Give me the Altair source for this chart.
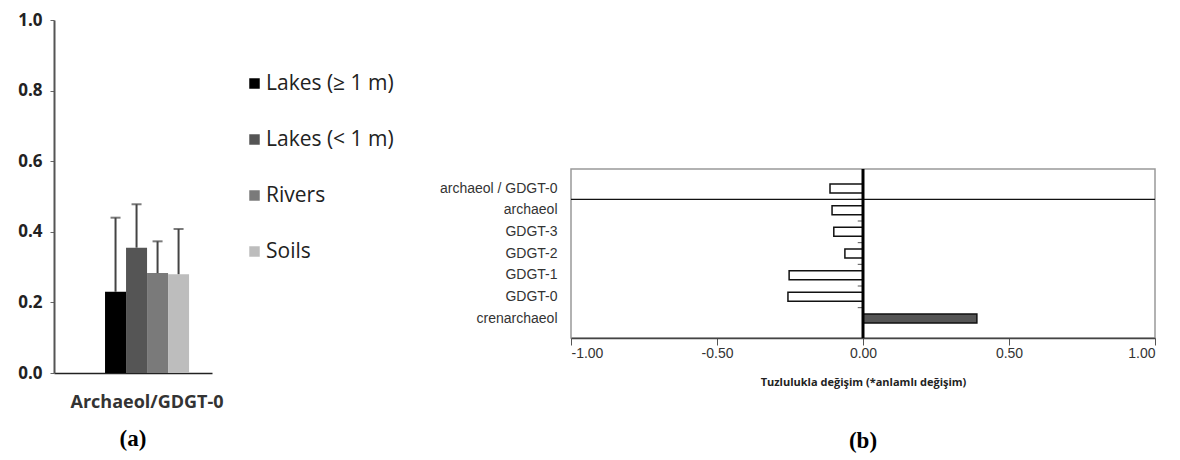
import altair as alt
import pandas as pd

# ---------------- data: panel (a) ----------------
ratio_label = ["Archaeol/GDGT-0"]
series = ["Lakes (\u2265 1 m)", "Lakes (< 1 m)", "Rivers", "Soils"]
means = [0.23, 0.355, 0.283, 0.28]
errors = [0.21, 0.123, 0.09, 0.128]
series_colors = ["#000000", "#555555", "#7a7a7a", "#bdbdbd"]
y_ticks_a = [0.0, 0.2, 0.4, 0.6, 0.8, 1.0]

# ---------------- data: panel (b) ----------------
compounds = ["archaeol / GDGT-0", "archaeol", "GDGT-3", "GDGT-2",
             "GDGT-1", "GDGT-0", "crenarchaeol"]
change = [-0.113, -0.106, -0.10, -0.062, -0.253, -0.257, 0.39]
x_ticks_b = [-1.0, -0.5, 0.0, 0.5, 1.0]

df_a = pd.DataFrame({
    "group": ratio_label * len(series),
    "series": series,
    "mean": means,
    "err": errors,
})
df_b = pd.DataFrame({"compound": compounds, "change": change})

# ---------------- panel (a) ----------------
x_a = alt.X("group:N", title=None,
            scale=alt.Scale(paddingInner=0, paddingOuter=0.44, align=0.69),
            axis=alt.Axis(labelAngle=0, ticks=False, labelFontSize=18,
                          labelFont="Open Sans", labelFontWeight="bold",
                          labelColor="#333333", labelPadding=20,
                          domainColor="#222222", domainWidth=1.5))
xoff_a = alt.XOffset("series:N", sort=series,
                     scale=alt.Scale(paddingInner=0, paddingOuter=0))
y_a = alt.Y("mean:Q", title=None,
            scale=alt.Scale(domain=[0, 1], nice=False),
            axis=alt.Axis(values=y_ticks_a, format=".1f", grid=False,
                          tickSize=4, tickColor="#666666", labelFontSize=17,
                          labelFont="Open Sans", labelFontWeight="bold",
                          labelColor="#222222", labelPadding=8,
                          domainColor="#555555", domainWidth=2))

bars_a = alt.Chart(df_a).mark_bar().encode(
    x=x_a, xOffset=xoff_a, y=y_a,
    color=alt.Color("series:N", sort=series,
                    scale=alt.Scale(domain=series, range=series_colors),
                    legend=alt.Legend(title=None, orient="none",
                                      legendX=190, legendY=53,
                                      symbolType="square", symbolSize=110,
                                      symbolStrokeWidth=0,
                                      labelFont="Open Sans", labelFontSize=21,
                                      labelColor="#222222", rowPadding=34,
                                      labelOffset=1)),
)
whisk_a = alt.Chart(df_a).transform_calculate(
    upper="datum.mean + datum.err"
).mark_rule(color="#444444", strokeWidth=2).encode(
    x=x_a, xOffset=xoff_a, y="mean:Q", y2="upper:Q"
)
cap_a = alt.Chart(df_a).transform_calculate(
    upper="datum.mean + datum.err"
).mark_tick(color="#444444", thickness=2, size=10).encode(
    x=x_a, xOffset=xoff_a, y="upper:Q"
)
panel_a = alt.layer(bars_a, whisk_a, cap_a).properties(
    width=158, height=353,
    view=alt.ViewBackground(stroke=None),
    title=alt.TitleParams("(a)", orient="bottom", font="Liberation Serif",
                          fontSize=23, fontWeight="bold", color="#000000",
                          offset=17),
)

# ---------------- panel (b) ----------------
y_b = alt.Y("compound:N", sort=compounds, title=None,
            scale=alt.Scale(paddingInner=0, paddingOuter=0.4),
            axis=alt.Axis(ticks=False, domain=False, labelFontSize=14,
                          labelFont="Liberation Sans", labelColor="#333333",
                          labelPadding=14))
x_b = alt.X("change:Q", title="Tuzlulukla de\u011fi\u015fim (*anlaml\u0131 de\u011fi\u015fim)",
            scale=alt.Scale(domain=[-1, 1], nice=False),
            axis=alt.Axis(values=x_ticks_b,
                          labelExpr="replace(format(datum.value, '.2f'), '\u2212', '-')",
                          grid=False,
                          tickSize=7, tickColor="#555555", domainColor="#444444",
                          domainWidth=1.5, labelFontSize=14,
                          labelFont="Liberation Sans", labelColor="#333333",
                          labelPadding=1, titleFont="Open Sans",
                          titleFontSize=11, titleFontWeight="bold",
                          titleColor="#222222", titlePadding=16))

bars_b = alt.Chart(df_b).mark_bar(size=9, stroke="#111111", strokeWidth=1.5).encode(
    x=x_b, y=y_b,
    fill=alt.condition("datum.change > 0", alt.value("#555555"), alt.value("#ffffff")),
)
zero_b = alt.Chart(df_b).transform_filter(
    alt.datum.compound == compounds[0]
).mark_rule(color="#000000", strokeWidth=3).encode(x=alt.datum(0))
divider_b = alt.Chart(df_b).transform_filter(
    alt.datum.compound == compounds[1]
).mark_rule(color="#111111", strokeWidth=1.3).encode(
    y=alt.Y("compound:N", sort=compounds, bandPosition=0)
)
minor_b = alt.Chart(df_b).transform_filter(
    alt.datum.compound != compounds[0]
).mark_rule(color="#555555", strokeWidth=1).encode(
    y=alt.Y("compound:N", sort=compounds, bandPosition=0),
    x=alt.datum(-0.018), x2=alt.datum(0),
)
panel_b = alt.layer(bars_b, minor_b, divider_b, zero_b).properties(
    width=584, height=169,
    view=alt.ViewBackground(stroke="#999999", strokeWidth=1.5),
    title=alt.TitleParams("(b)", orient="bottom", font="Liberation Serif",
                          fontSize=23, fontWeight="bold", color="#000000",
                          offset=43),
)

spacer = alt.Chart(pd.DataFrame({"v": [0]})).mark_point(opacity=0).encode(
    x=alt.X("v:Q", axis=None), y=alt.Y("v:Q", axis=None)
).properties(width=584, height=126, view=alt.ViewBackground(stroke=None))

right_col = alt.vconcat(spacer, panel_b, spacing=20)

chart = alt.hconcat(panel_a, right_col, spacing=214).properties(
    padding={"left": 9, "top": 3, "right": 0, "bottom": 0}
).configure_view(stroke=None).configure(font="Liberation Sans")

chart.save("out.html", embed_options={"renderer": "svg", "actions": False})
